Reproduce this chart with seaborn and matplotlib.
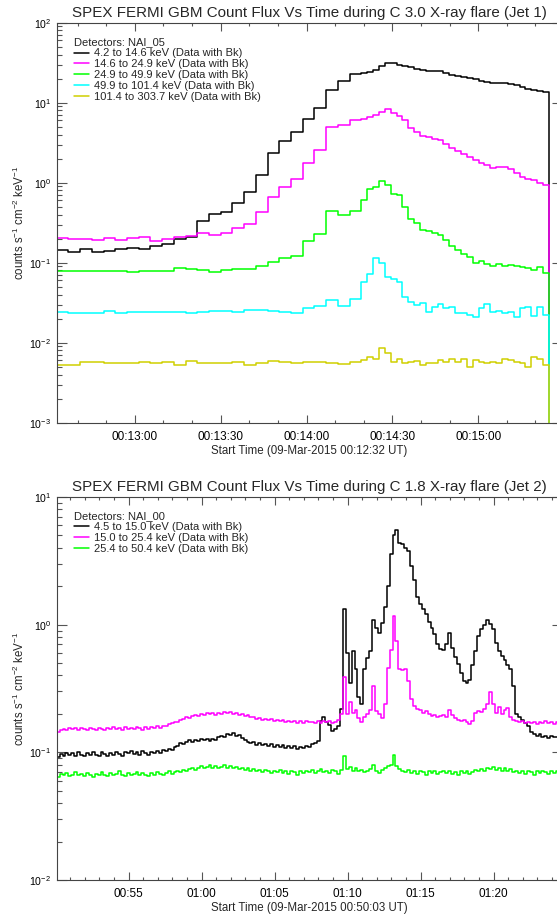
import numpy as np
import pandas as pd
import matplotlib
matplotlib.use("Agg")
import matplotlib.pyplot as plt
import seaborn as sns
from matplotlib.ticker import (MultipleLocator, FuncFormatter, LogLocator, NullFormatter)

sns.set_theme(style="white")
plt.rcParams["font.family"] = ["Liberation Sans", "DejaVu Sans"]
plt.rcParams["mathtext.fontset"] = "custom"
plt.rcParams["mathtext.rm"] = "Liberation Sans"
plt.rcParams["mathtext.it"] = "Liberation Sans:italic"
plt.rcParams["mathtext.default"] = "regular"

# ---------------- Jet 1 (top panel) ----------------
jet1_title = "SPEX FERMI GBM Count Flux Vs Time during C 3.0 X-ray flare (Jet 1)"
jet1_xlabel = "Start Time (09-Mar-2015 00:12:32 UT)"
jet1_detector = "Detectors: NAI_05"
jet1_start_s = 752.67          # seconds of day of first bin (00:12:32.67)
jet1_end_s = 929.3             # seconds of day at right edge of plot
jet1_coarse_dt = 4.096
jet1_n_coarse = 26
jet1_fine_dt = 2.048
jet1_n_fine = 32
jet1_labels = ["4.2 to 14.6 keV (Data with Bk)", "14.6 to 24.9 keV (Data with Bk)",
               "24.9 to 49.9 keV (Data with Bk)", "49.9 to 101.4 keV (Data with Bk)",
               "101.4 to 303.7 keV (Data with Bk)"]
jet1_colors = ["#000000", "#ff00ff", "#00ff00", "#00ffff", "#d0d000"]

j1_black = [0.144, 0.137, 0.147, 0.137, 0.141, 0.147, 0.151, 0.147, 0.163, 0.170,
            0.198, 0.211, 0.335, 0.406, 0.434, 0.552, 0.758, 1.25, 2.33, 3.35,
            4.34, 6.19, 8.51, 14.4, 18.8, 22.9,
            23.5, 24.4, 25.9, 28.8, 31.6, 31.0, 29.6, 28.5, 27.7, 26.1,
            25.4, 25.1, 25.1, 24.7, 23.3, 22.4, 21.8, 21.0, 20.2, 19.6,
            18.7, 18.1, 17.8, 17.8, 17.8, 17.3, 16.5, 15.6, 15.0, 14.4, 14.0, 13.6]
j1_magenta = [0.205, 0.196, 0.196, 0.192, 0.202, 0.192, 0.202, 0.211, 0.187, 0.196,
              0.211, 0.218, 0.233, 0.222, 0.237, 0.269, 0.305, 0.434, 0.668, 0.891,
              1.12, 1.76, 2.54, 4.95, 5.3, 6.1,
              6.3, 6.7, 7.1, 7.6, 8.4, 7.4, 6.82, 6.08, 4.79, 4.34,
              3.84, 3.69, 3.55, 3.42, 3.05, 2.69, 2.51, 2.28, 2.08, 1.92,
              1.78, 1.66, 1.51, 1.58, 1.56, 1.47, 1.31, 1.17, 1.10, 1.08, 1.0, 0.94]
j1_green = [0.0795, 0.0795, 0.0795, 0.0788, 0.0795, 0.0795, 0.076, 0.079, 0.0788, 0.0788,
            0.085, 0.083, 0.081, 0.076, 0.081, 0.083, 0.083, 0.091, 0.101, 0.113,
            0.122, 0.188, 0.229, 0.445, 0.395, 0.447,
            0.608, 0.826, 0.891, 1.06, 0.936, 0.722, 0.702, 0.501, 0.348, 0.311,
            0.256, 0.251, 0.233, 0.222, 0.192, 0.162, 0.144, 0.128, 0.117, 0.100,
            0.106, 0.0964, 0.091, 0.0964, 0.091, 0.0936, 0.091, 0.0875, 0.085, 0.081, 0.0875, 0.075]
j1_cyan = [0.0239, 0.0237, 0.0237, 0.0237, 0.0251, 0.0235, 0.0244, 0.0239, 0.0239, 0.0241,
           0.0244, 0.0237, 0.0239, 0.0249, 0.0251, 0.0244, 0.0257, 0.0257, 0.0249, 0.0239,
           0.0237, 0.0274, 0.0288, 0.0342, 0.029, 0.0348,
           0.0579, 0.0715, 0.113, 0.098, 0.0668, 0.062, 0.0579, 0.0369, 0.0326, 0.0296,
           0.031, 0.0244, 0.0282, 0.0303, 0.0269, 0.0276, 0.0233, 0.0237, 0.0222, 0.0208,
           0.0269, 0.0305, 0.0244, 0.025, 0.0233, 0.0244, 0.0208, 0.0269, 0.0276, 0.0216, 0.0282, 0.0222]
j1_yellow = [0.0052, 0.0052, 0.0058, 0.0057, 0.0056, 0.0055, 0.0055, 0.0057, 0.0056, 0.0058,
             0.0052, 0.0059, 0.0056, 0.0055, 0.0056, 0.0058, 0.0052, 0.0055, 0.0059, 0.0058,
             0.0056, 0.0058, 0.0057, 0.0055, 0.0054, 0.0058,
             0.0061, 0.0066, 0.0062, 0.0085, 0.0074, 0.0058, 0.0062, 0.0055, 0.0058, 0.0059,
             0.0053, 0.0056, 0.0055, 0.0061, 0.0058, 0.0063, 0.0058, 0.0063, 0.0050, 0.0061,
             0.0058, 0.0056, 0.0058, 0.0055, 0.0062, 0.0061, 0.0058, 0.0055, 0.0050, 0.0066, 0.0063, 0.0053]

# ---------------- Jet 2 (bottom panel) ----------------
jet2_title = "SPEX FERMI GBM Count Flux Vs Time during C 1.8 X-ray flare (Jet 2)"
jet2_xlabel = "Start Time (09-Mar-2015 00:50:03 UT)"
jet2_detector = "Detectors: NAI_00"
jet2_start_min = 50.075        # minutes of day of first bin
jet2_end_min = 84.68           # minutes of day at right edge of plot
jet2_dt_min = 0.2
jet2_labels = ["4.5 to 15.0 keV (Data with Bk)", "15.0 to 25.4 keV (Data with Bk)",
               "25.4 to 50.4 keV (Data with Bk)"]
jet2_colors = ["#000000", "#ff00ff", "#00ff00"]

j2_black = [0.092, 0.097, 0.094, 0.099, 0.095, 0.098, 0.094, 0.100, 0.096, 0.093,
            0.099, 0.095, 0.101, 0.096, 0.094, 0.100, 0.097, 0.093, 0.099, 0.096,
            0.101, 0.097, 0.094, 0.100, 0.098, 0.103, 0.097, 0.100, 0.096, 0.102,
            0.099, 0.095, 0.101, 0.098, 0.103, 0.099, 0.104, 0.102, 0.107, 0.105,
            0.111, 0.113, 0.118, 0.116, 0.121, 0.124, 0.120, 0.126, 0.123, 0.128,
            0.124, 0.127, 0.122, 0.128, 0.125, 0.131, 0.135, 0.133, 0.140, 0.137,
            0.141, 0.134, 0.137, 0.129, 0.125, 0.121, 0.118, 0.120, 0.115, 0.118,
            0.114, 0.117, 0.112, 0.116, 0.110, 0.114, 0.111, 0.115, 0.109, 0.113,
            0.108, 0.112, 0.107, 0.111, 0.108, 0.113, 0.111, 0.116, 0.119, 0.122,
            0.175, 0.190, 0.172, 0.165, 0.148, 0.152, 0.160, 0.22, 1.33, 0.60,
            0.35, 0.62, 0.45, 0.27, 0.24, 0.45, 0.55, 0.62, 1.09, 0.95,
            0.86, 1.03, 1.38, 2.0, 3.6, 5.0, 5.5, 4.4, 4.3, 4.0,
            3.8, 2.9, 2.24, 1.65, 1.45, 1.32, 1.22, 1.05, 0.95, 0.85,
            0.70, 0.64, 0.63, 0.70, 0.86, 0.66, 0.56, 0.49, 0.42, 0.36,
            0.35, 0.37, 0.48, 0.62, 0.82, 0.92, 1.0, 1.09, 1.02, 0.92,
            0.72, 0.62, 0.57, 0.53, 0.48, 0.45, 0.33, 0.20, 0.19, 0.18,
            0.17, 0.16, 0.145, 0.140, 0.135, 0.138, 0.132, 0.135, 0.130, 0.134,
            0.131, 0.133, 0.130]
j2_magenta = [0.145, 0.150, 0.153, 0.149, 0.155, 0.151, 0.154, 0.150, 0.156, 0.152,
              0.149, 0.155, 0.152, 0.150, 0.156, 0.153, 0.149, 0.154, 0.151, 0.157,
              0.152, 0.155, 0.150, 0.158, 0.153, 0.156, 0.151, 0.158, 0.154, 0.150,
              0.157, 0.153, 0.159, 0.155, 0.160, 0.156, 0.162, 0.160, 0.166, 0.170,
              0.174, 0.172, 0.180, 0.184, 0.188, 0.186, 0.194, 0.197, 0.192, 0.199,
              0.196, 0.202, 0.198, 0.203, 0.197, 0.205, 0.200, 0.207, 0.202, 0.206,
              0.199, 0.204, 0.197, 0.200, 0.193, 0.195, 0.188, 0.190, 0.183, 0.186,
              0.180, 0.184, 0.178, 0.181, 0.176, 0.180, 0.175, 0.178, 0.172, 0.177,
              0.173, 0.176, 0.171, 0.175, 0.170, 0.176, 0.172, 0.174, 0.170, 0.175,
              0.171, 0.176, 0.172, 0.177, 0.171, 0.174, 0.178, 0.200, 0.390, 0.200,
              0.250, 0.205, 0.215, 0.185, 0.172, 0.190, 0.200, 0.215, 0.330, 0.210,
              0.200, 0.185, 0.240, 0.460, 0.630, 1.160, 0.750, 0.450, 0.440, 0.450,
              0.360, 0.260, 0.230, 0.220, 0.215, 0.205, 0.210, 0.198, 0.192, 0.196,
              0.188, 0.192, 0.196, 0.190, 0.215, 0.195, 0.185, 0.180, 0.176, 0.178,
              0.172, 0.168, 0.175, 0.205, 0.210, 0.208, 0.218, 0.240, 0.295, 0.240,
              0.205, 0.228, 0.200, 0.215, 0.222, 0.190, 0.178, 0.175, 0.172, 0.176,
              0.170, 0.174, 0.169, 0.173, 0.168, 0.174, 0.170, 0.175, 0.169, 0.173,
              0.167, 0.172, 0.170]
j2_green = [0.064, 0.068, 0.066, 0.069, 0.065, 0.067, 0.070, 0.066, 0.068, 0.065,
            0.069, 0.067, 0.064, 0.068, 0.066, 0.070, 0.067, 0.065, 0.069, 0.066,
            0.068, 0.071, 0.067, 0.065, 0.069, 0.066, 0.068, 0.070, 0.066, 0.069,
            0.067, 0.065, 0.069, 0.067, 0.070, 0.068, 0.066, 0.069, 0.071, 0.068,
            0.070, 0.072, 0.070, 0.073, 0.071, 0.074, 0.075, 0.073, 0.076, 0.078,
            0.075, 0.077, 0.079, 0.076, 0.078, 0.075, 0.077, 0.079, 0.076, 0.078,
            0.075, 0.077, 0.074, 0.076, 0.073, 0.075, 0.072, 0.074, 0.071, 0.073,
            0.070, 0.073, 0.071, 0.069, 0.072, 0.070, 0.073, 0.069, 0.071, 0.068,
            0.072, 0.070, 0.067, 0.071, 0.069, 0.072, 0.070, 0.073, 0.069, 0.071,
            0.074, 0.070, 0.072, 0.069, 0.073, 0.071, 0.068, 0.073, 0.093, 0.074,
            0.077, 0.072, 0.075, 0.071, 0.073, 0.070, 0.072, 0.074, 0.079, 0.071,
            0.069, 0.073, 0.075, 0.078, 0.080, 0.096, 0.078, 0.074, 0.072, 0.070,
            0.073, 0.069, 0.071, 0.068, 0.072, 0.070, 0.067, 0.071, 0.069, 0.072,
            0.068, 0.070, 0.071, 0.069, 0.072, 0.068, 0.070, 0.067, 0.071, 0.069,
            0.072, 0.068, 0.070, 0.073, 0.071, 0.074, 0.072, 0.076, 0.074, 0.077,
            0.073, 0.076, 0.072, 0.075, 0.071, 0.074, 0.070, 0.072, 0.069, 0.071,
            0.068, 0.072, 0.070, 0.067, 0.071, 0.069, 0.072, 0.070, 0.068, 0.071,
            0.069, 0.072, 0.070]

outside_level = 1e-6   # zero counts outside the accumulation interval

# ---------------- figure ----------------
W, H = 557, 923
fig = plt.figure(figsize=(W / 100, H / 100), dpi=100)
left_px, right_px = 56.7, 562.0
ax1 = fig.add_axes([left_px / W, 1 - 422.7 / H, (right_px - left_px) / W, 400.0 / H])
ax2 = fig.add_axes([left_px / W, 1 - 880.0 / H, (right_px - left_px) / W, 383.0 / H])

# top panel time bins
j1_widths = np.array([jet1_coarse_dt] * jet1_n_coarse + [jet1_fine_dt] * jet1_n_fine)
j1_edges = jet1_start_s + np.concatenate([[0.0], np.cumsum(j1_widths)])


def step_frame(edges, vals, drop_end):
    t = np.concatenate([[edges[0]], edges[:-1], [edges[-1]]])
    v = np.concatenate([[outside_level], vals, [outside_level if drop_end else vals[-1]]])
    return pd.DataFrame({"t": t, "v": v})


for vals, lab, col in zip([j1_black, j1_magenta, j1_green, j1_cyan, j1_yellow], jet1_labels, jet1_colors):
    df = step_frame(j1_edges, np.array(vals), True)
    sns.lineplot(data=df, x="t", y="v", ax=ax1, color=col, label=lab, lw=1.1,
                 drawstyle="steps-post", estimator=None, sort=False)

n2 = len(j2_black)
j2_edges = jet2_start_min + jet2_dt_min * np.arange(n2 + 1)
for vals, lab, col in zip([j2_black, j2_magenta, j2_green], jet2_labels, jet2_colors):
    df = step_frame(j2_edges, np.array(vals), False)
    sns.lineplot(data=df, x="t", y="v", ax=ax2, color=col, label=lab, lw=1.1,
                 drawstyle="steps-post", estimator=None, sort=False)


def fmt_hms(x, pos):
    x = int(round(x))
    return "%02d:%02d:%02d" % (x // 3600, (x // 60) % 60, x % 60)


def fmt_hm(x, pos):
    x = int(round(x))
    return "%02d:%02d" % (x // 60, x % 60)


def style(ax, major, minor, fmt, xlim, ylim, title, xlabel, det, fs_leg=8):
    ax.set_yscale("log")
    ax.set_xlim(*xlim)
    ax.set_ylim(*ylim)
    ax.xaxis.set_major_locator(MultipleLocator(major))
    ax.xaxis.set_minor_locator(MultipleLocator(minor))
    ax.xaxis.set_major_formatter(FuncFormatter(fmt))
    ax.yaxis.set_major_locator(LogLocator(base=10))
    ax.yaxis.set_minor_locator(LogLocator(base=10, subs=np.arange(2, 10)))
    ax.yaxis.set_minor_formatter(NullFormatter())
    ax.grid(False)
    ax.tick_params(axis="both", which="both", direction="in", top=True, right=True,
                   bottom=True, left=True, color="#555555", labelcolor="black")
    ax.tick_params(axis="x", which="major", length=6.0, width=0.8, pad=6, labelsize=8.5)
    ax.tick_params(axis="x", which="minor", length=2.5, width=0.8)
    ax.tick_params(axis="y", which="major", length=7.2, width=0.8, pad=4, labelsize=7.6)
    ax.tick_params(axis="y", which="minor", length=3.6, width=0.8)
    for s in ax.spines.values():
        s.set_color("#444444")
        s.set_linewidth(0.8)
    ax.set_title(title, fontsize=10.9, pad=4)
    ax.set_xlabel(xlabel, fontsize=8.3, labelpad=1.5)
    ax.set_ylabel("counts s$^{-1}$ cm$^{-2}$ keV$^{-1}$", fontsize=8.3)
    ax.yaxis.set_label_coords(-0.058, 0.5)
    handles, labels = ax.get_legend_handles_labels()
    ax.legend(handles, labels, title=det, loc="upper left", bbox_to_anchor=(0.034, 0.963),
              frameon=False, fontsize=fs_leg, title_fontsize=fs_leg, handlelength=1.35,
              handletextpad=0.5, labelspacing=0.08, borderpad=0, borderaxespad=0,
              alignment="left")


style(ax1, 30, 10, fmt_hms, (jet1_start_s, jet1_end_s),
      (1e-3, 1e2), jet1_title, jet1_xlabel, jet1_detector)
style(ax2, 5, 1, fmt_hm, (jet2_start_min, jet2_end_min),
      (1e-2, 1e1), jet2_title, jet2_xlabel, jet2_detector)

fig.savefig("out.png", dpi=100)
